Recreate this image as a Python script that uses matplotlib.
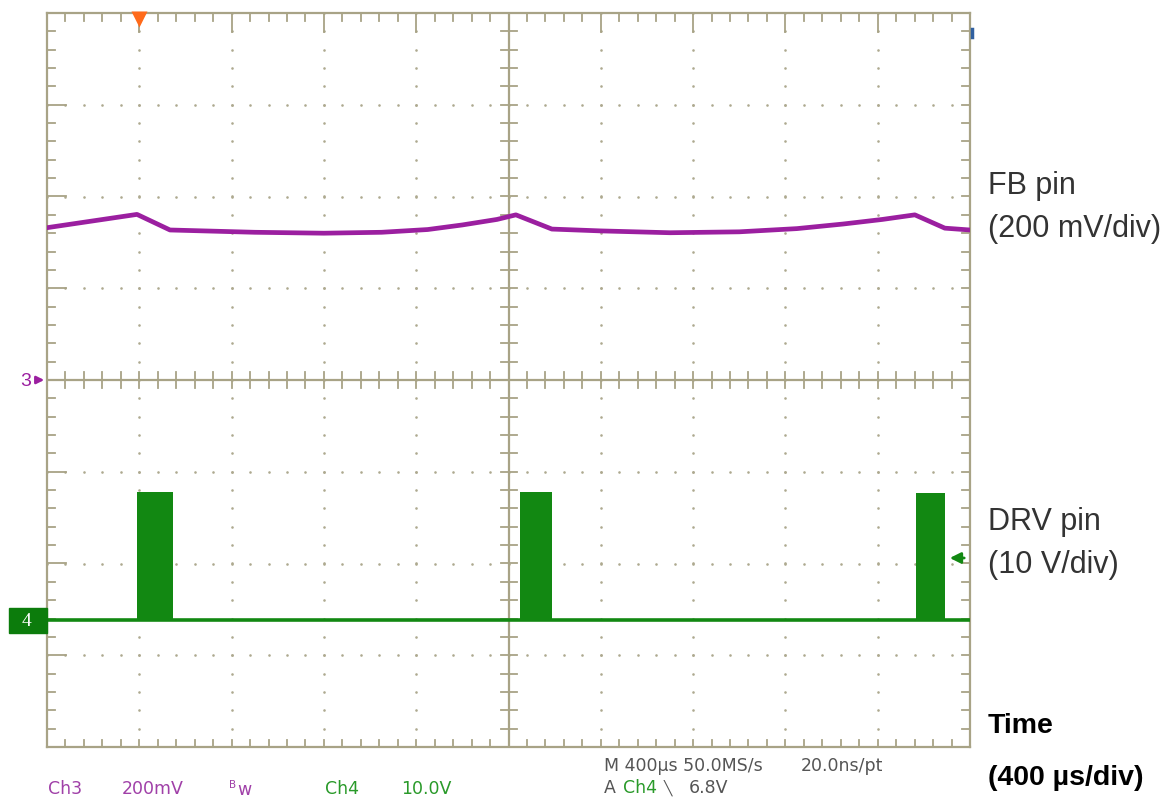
import numpy as np
import matplotlib.pyplot as plt

# Ch3 - FB pin, time in us, level in mV
fb_t = [0, 390, 533, 900, 1200, 1450, 1650, 1800, 1950, 2032,
        2188, 2400, 2700, 3000, 3250, 3450, 3620, 3761, 3891, 4000]
fb_mv = [332, 361, 327, 322, 320, 322, 328, 338, 350, 360,
         329, 325, 321, 323, 330, 340, 350, 360, 331, 327]

# Ch4 - DRV pin switching bursts (us) and their peak level (V)
burst_start = [390, 2050, 3765]
burst_end = [545, 2190, 3890]
burst_peak = [14.0, 14.0, 13.9]

# scope settings
time_div = 400        # us/div
ch3_scale = 200       # mV/div
ch4_scale = 10        # V/div
ch3_pos = 0.0         # div
ch4_pos = -2.62       # div
trig_time = 400       # us
trig_level = 6.8      # V

W, H = 1174, 799
grat = '#a8a386'
dotc = '#aea98f'
purple = '#9b1fa0'
green = '#128812'

fig = plt.figure(figsize=(W / 100, H / 100), dpi=100)
fig.patch.set_facecolor('white')


def ftext(x, y, s, **kw):
    return fig.text(x / W, 1 - y / H, s, **kw)


# graticule box in pixels
left, right, top, bottom = 47, 970, 13, 747
ax = fig.add_axes([left / W, 1 - bottom / H, (right - left) / W, (bottom - top) / H])
ax.set_xlim(0, 10 * time_div)
ax.set_ylim(-4, 4)
ax.set_xticks([])
ax.set_yticks([])
for s in ax.spines.values():
    s.set_color(grat)
    s.set_linewidth(1.6)
    s.set_zorder(3)

xs = np.arange(0, 10 * time_div + 1, time_div / 5)
ys = np.arange(-4, 4.01, 0.2)
xmaj = np.arange(0, 10 * time_div + 1, time_div)
ymaj = np.arange(-4, 5, 1)
px_x = 10 * time_div / (right - left)   # us per pixel
px_y = 8 / (bottom - top)               # div per pixel

# dotted division lines
dx, dy = [], []
for xm in xmaj[1:-1]:
    if xm == 5 * time_div:
        continue
    dx += [xm] * len(ys)
    dy += list(ys)
for ym in ymaj[1:-1]:
    if ym == 0:
        continue
    dx += list(xs)
    dy += [ym] * len(xs)
ax.scatter(dx, dy, s=3.5, color=dotc, lw=0, zorder=1)

# centre cross with minor ticks
ax.axhline(0, color=grat, lw=1.6, zorder=2)
ax.axvline(5 * time_div, color=grat, lw=1.6, zorder=2)
for xv in xs:
    ax.plot([xv, xv], [-8 * px_y, 8 * px_y], color=grat, lw=1.3, zorder=2)
for yv in ys:
    ax.plot([5 * time_div - 8 * px_x, 5 * time_div + 8 * px_x], [yv, yv], color=grat, lw=1.3, zorder=2)

# ticks along the frame
for xv in xs:
    ln = 19 if xv in xmaj else 8
    ax.plot([xv, xv], [4, 4 - ln * px_y], color=grat, lw=1.3, zorder=2)
    ax.plot([xv, xv], [-4, -4 + 7 * px_y], color=grat, lw=1.3, zorder=2)
for yv in ys:
    ln = 19 if abs(yv - round(yv)) < 1e-6 else 8
    ax.plot([0, ln * px_x], [yv, yv], color=grat, lw=1.3, zorder=2)
    ax.plot([10 * time_div, 10 * time_div - 8 * px_x], [yv, yv], color=grat, lw=1.3, zorder=2)

# Ch4 trace: baseline plus switching bursts
ax.plot([0, 10 * time_div], [ch4_pos, ch4_pos], color=green, lw=2.6, zorder=4)
for s, e, pk in zip(burst_start, burst_end, burst_peak):
    ax.fill_between([s, e], ch4_pos, ch4_pos + pk / ch4_scale, color=green, lw=0, zorder=4)

# Ch3 trace
fb_div = ch3_pos + np.array(fb_mv) / ch3_scale
ax.plot(fb_t, fb_div, color=purple, lw=3.4, solid_joinstyle='round', zorder=5)

# trigger position and level markers
ax.plot([trig_time], [4 - 6 * px_y], marker='v', ms=11, color='#ff6a1a', mec='none',
        clip_on=False, zorder=6)
ty = ch4_pos + trig_level / ch4_scale
ax.annotate('', xy=(10 * time_div - 23 * px_x, ty), xytext=(10 * time_div - 3 * px_x, ty),
            arrowprops=dict(arrowstyle='-|>', color=green, lw=2, mutation_scale=16),
            zorder=6)
ax.plot([10 * time_div + 2 * px_x] * 2, [4 - 16 * px_y, 4 - 24 * px_y], color='#3060a0',
        lw=2.5, clip_on=False, zorder=6)

# channel ground markers on the left
ftext(31, 381, '3', color=purple, fontsize=14, ha='right', va='center', family='Liberation Sans')
ax.annotate('', xy=(0, ch3_pos), xytext=(-13 * px_x, ch3_pos), annotation_clip=False,
            arrowprops=dict(arrowstyle='-|>', color=purple, lw=1.8, mutation_scale=11))
fig.patches.append(plt.Rectangle((9 / W, 1 - 633 / H), 38 / W, 25 / H, transform=fig.transFigure,
                                 color='#0c7c0c', zorder=5))
ftext(26, 622, '4', color='white', fontsize=14, ha='center', va='center',
      family='Liberation Serif', zorder=8)
ax.annotate('', xy=(-1 * px_x, ch4_pos), xytext=(-12 * px_x, ch4_pos), annotation_clip=False,
            arrowprops=dict(arrowstyle='-|>', color='white', lw=1.5, mutation_scale=9), zorder=8)

# scope readout
mono = dict(family='DejaVu Sans', fontsize=12.5, va='center')
ftext(48, 789, 'Ch3', color='#a040a8', **mono)
ftext(122, 789, '200mV', color='#a040a8', **mono)
ftext(229, 785, 'B', color='#a040a8', family='DejaVu Sans', fontsize=7.5, va='center')
ftext(237, 790, 'w', color='#a040a8', **mono)
ftext(325, 789, 'Ch4', color='#2a9a2a', **mono)
ftext(401, 789, '10.0V', color='#2a9a2a', **mono)
ftext(604, 766, 'M 400\u00b5s 50.0MS/s', color='#555555', **mono)
ftext(801, 766, '20.0ns/pt', color='#555555', **mono)
ftext(604, 788, 'A', color='#555555', **mono)
ftext(623, 788, 'Ch4', color='#2a9a2a', **mono)
ftext(664, 788, '\u2572', color='#555555', family='DejaVu Sans', fontsize=10, va='center')
ftext(689, 788, '6.8V', color='#555555', **mono)

# channel labels on the right
lab = dict(family='Liberation Sans', fontsize=22, color='#333333', va='center')
ftext(988, 186, 'FB pin', **lab)
ftext(988, 229, '(200 mV/div)', **lab)
ftext(988, 522, 'DRV pin', **lab)
ftext(988, 565, '(10 V/div)', **lab)
ftext(988, 726, 'Time', family='Liberation Sans', fontsize=20.5, fontweight='bold', va='center')
ftext(988, 778, '(400 \u00b5s/div)', family='Liberation Sans', fontsize=20.5, fontweight='bold',
      va='center')

fig.savefig('out.png', dpi=100)
